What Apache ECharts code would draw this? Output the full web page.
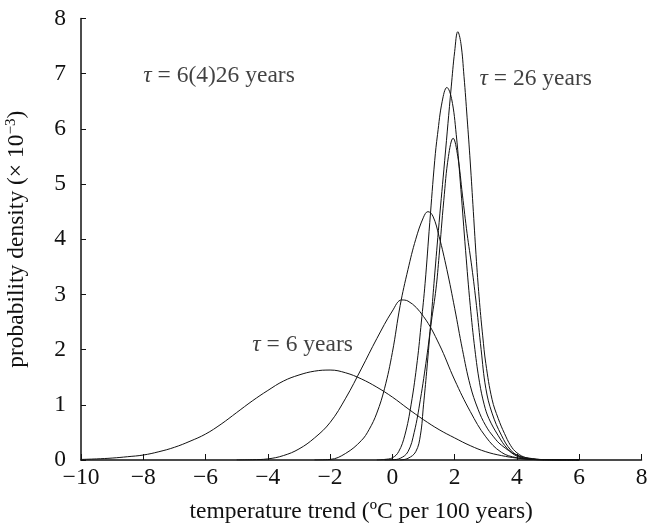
<!DOCTYPE html>
<html>
<head>
<meta charset="utf-8">
<script src="https://cdn.jsdelivr.net/npm/echarts@6/dist/echarts.min.js"></script>
<style>
html,body{margin:0;padding:0;background:#fff;}
#chart{width:647px;height:531px;}
</style>
</head>
<body>
<div id="chart"></div>
<script>
// ---- data ----
var xTicks = [-10, -8, -6, -4, -2, 0, 2, 4, 6, 8];
var yTicks = [0, 1, 2, 3, 4, 5, 6, 7, 8];

var x6  = [-10,-9.5,-9,-8.5,-8,-7.5,-7,-6.5,-6,-5.5,-5,-4.5,-4,-3.5,-3,-2.5,-2,-1.5,-1,-0.5,0,0.5,1,1.5,2,2.5,3,3.5,4,4.5,5,5.5,6];
var y6  = [0.01,0.02,0.035,0.06,0.09,0.15,0.23,0.34,0.47,0.65,0.86,1.07,1.26,1.43,1.54,1.61,1.63,1.58,1.47,1.32,1.14,0.93,0.73,0.55,0.4,0.26,0.15,0.08,0.035,0.012,0.004,0.001,0];

var x10 = [-5,-4.5,-4,-3.5,-3,-2.5,-2,-1.5,-1,-0.5,0,0.3,0.5,1,1.5,2,2.5,3,3.5,4,4.5,5,6];
var y10 = [0,0.005,0.02,0.08,0.2,0.4,0.68,1.12,1.65,2.2,2.7,2.9,2.88,2.6,2.1,1.45,0.88,0.42,0.14,0.04,0.01,0.002,0];

var x14 = [-2.5,-2,-1.5,-1,-0.75,-0.5,-0.25,0,0.25,0.5,0.75,1,1.14,1.3,1.5,1.75,2,2.25,2.5,2.75,3,3.25,3.5,4,4.5,5,6];
var y14 = [0,0.01,0.12,0.35,0.55,0.85,1.3,1.95,2.8,3.45,4.0,4.4,4.5,4.42,4.05,3.45,2.75,2.0,1.35,0.92,0.62,0.42,0.27,0.09,0.025,0.005,0];

var x18 = [-0.5,-0.25,0,0.2,0.4,0.6,0.8,0.93,1.05,1.2,1.36,1.45,1.6,1.75,1.9,2.05,2.2,2.35,2.5,2.65,2.8,2.95,3.1,3.39,3.7,4.0,4.4,5,6];
var y18 = [0,0.01,0.04,0.15,0.45,1.0,1.8,2.5,3.2,4.3,5.43,5.9,6.5,6.75,6.55,5.9,4.9,3.8,2.8,2.0,1.4,1.0,0.75,0.45,0.2,0.07,0.015,0.002,0];

var x22 = [-0.25,0,0.25,0.5,0.7,0.9,1.1,1.25,1.4,1.5,1.65,1.8,1.95,2.1,2.25,2.4,2.55,2.7,2.85,3.0,3.2,3.5,3.8,4.1,4.5,5,6];
var y22 = [0,0.005,0.03,0.15,0.5,1.1,1.85,2.5,3.1,3.7,4.7,5.5,5.83,5.5,4.8,4.1,3.5,2.8,2.0,1.3,0.85,0.45,0.18,0.06,0.015,0.002,0];

var x26 = [0.25,0.5,0.75,0.9,1.0,1.1,1.25,1.35,1.5,1.68,1.89,2.0,2.1,2.2,2.3,2.4,2.5,2.6,2.7,2.8,2.9,3.0,3.2,3.4,3.6,3.8,4.0,4.3,4.7,5,6];
var y26 = [0,0.03,0.15,0.45,1.0,1.6,2.6,3.3,4.3,5.43,6.76,7.4,7.76,7.55,6.95,6.2,5.4,4.5,3.6,2.85,2.25,1.75,1.1,0.75,0.48,0.26,0.13,0.04,0.01,0.003,0];

var curveNames = ['τ = 6', 'τ = 10', 'τ = 14', 'τ = 18', 'τ = 22', 'τ = 26'];
var curveX = [x6, x10, x14, x18, x22, x26];
var curveY = [y6, y10, y14, y18, y22, y26];

// annotations: text and anchor (data coordinates of left/middle of the text)
var annTexts = ['{i|τ} = 6(4)26 years', '{i|τ} = 26 years', '{i|τ} = 6 years'];
var annX = [-8.0, 2.8, -4.5];
var annY = [6.97, 6.9, 2.08];

var xAxisTitle = 'temperature trend (ºC per 100 years)';
var yAxisTitle = 'probability density (× 10{sup|−3})';

// ---- chart ----
var FONT = '"Liberation Serif", "DejaVu Serif", serif';
var INK = '#111111';
var FS = 23.5;

function pairs(xs, ys) {
  var out = [];
  for (var i = 0; i < xs.length; i++) out.push([xs[i], ys[i]]);
  return out;
}
function minusFmt(v) { return String(v).replace('-', '\u2212'); }

var series = [];
for (var k = 0; k < curveX.length; k++) {
  series.push({
    name: curveNames[k],
    type: 'line',
    data: pairs(curveX[k], curveY[k]),
    showSymbol: false,
    smooth: 0.4,
    lineStyle: { color: INK, width: 1 },
    silent: true,
    z: 3
  });
}
var annData = [];
for (var a = 0; a < annTexts.length; a++) {
  annData.push({ value: [annX[a], annY[a]], label: { formatter: annTexts[a] } });
}
series.push({
  type: 'scatter',
  data: annData,
  symbolSize: 0,
  silent: true,
  label: {
    show: true,
    position: 'right',
    distance: 0,
    color: INK,
    fontFamily: FONT,
    fontSize: FS,
    rich: {
      i: { fontFamily: FONT, fontSize: FS, fontStyle: 'italic', color: INK }
    }
  },
  z: 5
});

var chart = echarts.init(document.getElementById('chart'), null, { renderer: 'canvas' });
chart.setOption({
  backgroundColor: '#ffffff',
  animation: false,
  grid: { left: 81, right: 5.5, top: 18.5, bottom: 71, containLabel: false, outerBoundsMode: 'none' },
  xAxis: {
    type: 'value',
    min: xTicks[0],
    max: xTicks[xTicks.length - 1],
    interval: 2,
    name: xAxisTitle,
    nameLocation: 'middle',
    nameGap: 40,
    nameTextStyle: { fontFamily: FONT, fontSize: FS, color: INK },
    axisLine: { show: true, onZero: false, lineStyle: { color: INK, width: 1.5 } },
    axisTick: { show: true, inside: true, length: 6, lineStyle: { color: INK, width: 1 } },
    axisLabel: { fontFamily: FONT, fontSize: FS, color: INK, margin: 6, formatter: minusFmt },
    splitLine: { show: false }
  },
  yAxis: {
    type: 'value',
    min: yTicks[0],
    max: yTicks[yTicks.length - 1],
    interval: 1,
    name: yAxisTitle,
    nameLocation: 'middle',
    nameGap: 52,
    nameTextStyle: {
      fontFamily: FONT, fontSize: FS, color: INK,
      rich: { sup: { fontFamily: FONT, fontSize: 15, color: INK, padding: [0, 0, 10, 0] } }
    },
    axisLine: { show: true, onZero: false, lineStyle: { color: INK, width: 1.5 } },
    axisTick: { show: true, inside: true, length: 5, lineStyle: { color: INK, width: 1 } },
    axisLabel: { fontFamily: FONT, fontSize: FS, color: INK, margin: 15, formatter: minusFmt },
    splitLine: { show: false }
  },
  series: series
});
</script>
</body>
</html>
